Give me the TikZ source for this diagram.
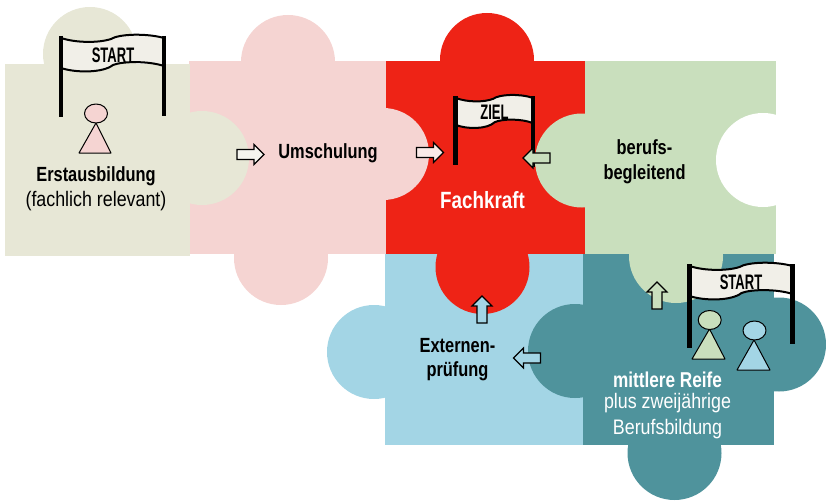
\documentclass[tikz,border=0pt]{standalone}
\usepackage{fontspec}
\setmainfont[FakeStretch=0.8]{Liberation Sans}
\newfontfamily\regfont[FakeStretch=0.85]{Liberation Sans}
\newfontfamily\flagfont[FakeStretch=0.62]{Liberation Sans}
\usetikzlibrary{shapes.arrows}
\definecolor{cbeige}{HTML}{E7E7D6}
\definecolor{cpink}{HTML}{F5D4D2}
\definecolor{cred}{HTML}{EE2316}
\definecolor{cgreen}{HTML}{C9DFBD}
\definecolor{cblue}{HTML}{A3D5E5}
\definecolor{cteal}{HTML}{4F939C}
\definecolor{cflag}{HTML}{F1EFE8}
\tikzset{
 x=1pt,y=-1pt,
 lbl/.style={font=\fontsize{20.5}{22}\selectfont\bfseries,text=#1,inner sep=0pt,align=center},
 lbl/.default=black,
 reglbl/.style={font=\regfont\fontsize{21}{25.5}\selectfont,text=#1,inner sep=0pt,align=center},
 reglbl/.default=black,
 flagtext/.style={font=\flagfont\fontsize{21}{22}\selectfont\bfseries,inner sep=0pt},
 pawnline/.style={draw=black,line width=1pt,line join=round},
 pics/blockarrow/.style={code={
   \draw[fill=#1,draw=black,line width=1.2pt,miter limit=10]
     (-13.5,-5) -- (3.5,-5) -- (3.5,-10) -- (13.5,0) -- (3.5,10) -- (3.5,5) -- (-13.5,5) -- cycle;
 }},
 pics/flag/.style n args={2}{code={
   \path[fill=cflag,draw=black,line width=2pt]
     (0,1) .. controls (15,6) and (38,6) .. (50,2) .. controls (58,-3) and (85,-4) .. (103,1)
     -- (103,29) .. controls (88,24) and (62,24) .. (52,28) .. controls (42,36) and (15,36) .. (0,31) -- cycle;
   \draw[line width=4.5pt,black] (0,-1) -- (0,#1);
   \draw[line width=4.5pt,black] (103,-1) -- (103,#2);
 }}
}
\begin{document}
\begin{tikzpicture}
\useasboundingbox (0,0) rectangle (826,500);
% blue piece
\fill[cblue] (385,254) rectangle (583,445);
\fill[cblue] (374,352) circle (47);
% teal piece
\fill[cteal] (583,254) rectangle (774,445);
\fill[cteal] (575,351) circle (47);
\fill[cteal] (779,344.5) circle (47);
\fill[cteal] (674.5,453) circle (47);
% red piece
\fill[cred] (386,61) rectangle (585,254);
\fill[cred] (487,60) circle (47);
\fill[cred] (482.5,267) circle (47);
% green piece
\fill[cgreen] (585,61) rectangle (776,254);
\fill[cgreen] (582,160.5) circle (47);
\fill[cgreen] (676,256) circle (47);
\fill[white] (763,160) circle (47);
\fill[white] (776,100) rectangle (812,220);
% pink piece
\fill[cpink] (189,61) rectangle (386,254);
\fill[cpink] (288,62) circle (47);
\fill[cpink] (281,258) circle (47);
\fill[cpink] (383,154) circle (46);
% beige piece
\fill[cbeige] (5,64) rectangle (190,256);
\fill[cbeige] (90,54) circle (47);
\fill[cbeige] (202,158) circle (47);

% flags
\pic at (61,37) {flag={80}{79}};
\node[flagtext] (start1) at (113,55) {START};
\pic[xscale=0.75,yscale=0.9] at (455.7,97) {flag={76}{78}};
\node[flagtext] (ziel) at (494.5,112) {ZIEL};
\pic at (689.5,265) {flag={83}{79}};
\node[flagtext] (start2) at (741,282) {START};

% pawns
\draw[pawnline,fill=cpink] (96,123) -- (79,153) -- (111,153) -- cycle;
\draw[pawnline,fill=cpink] (96,113.5) ellipse (11.5 and 9.5);
\draw[pawnline,fill=cgreen] (709.5,329) -- (692,359) -- (725,359) -- cycle;
\draw[pawnline,fill=cgreen] (709.7,320) ellipse (11.5 and 9.5);
\draw[pawnline,fill=cblue] (754,340) -- (737,370) -- (770,370) -- cycle;
\draw[pawnline,fill=cblue] (754.5,330.5) ellipse (11.5 and 9.5);

% arrows
\pic at (250.5,154.5) {blockarrow=cbeige!40!white};
\pic at (430,152.5) {blockarrow=cpink!50!white};
\pic[rotate=180] at (536.5,158) {blockarrow=cgreen};
\pic[rotate=90] at (657,295.5) {blockarrow=cgreen};
\pic[rotate=90] at (482,309.5) {blockarrow=cblue};
\pic[rotate=180] at (527,358) {blockarrow=cblue};

% labels
\node[lbl] (erst) at (96,176) {Erstausbildung};
\node[reglbl] (fach) at (96,201) {(fachlich relevant)};
\node[lbl] (um) at (328,153) {Umschulung};
\node[lbl=white,font=\fontsize{23.5}{26}\selectfont\bfseries] (fk) at (482.5,200) {Fachkraft};
\node[lbl,font=\fontsize{20.5}{25}\selectfont\bfseries] (bb) at (644.5,162) {berufs-\\begleitend};
\node[lbl,font=\fontsize{20.5}{24}\selectfont\bfseries] (ext) at (457.5,360) {Externen-\\prüfung};
\node[lbl=white,font=\fontsize{21.5}{22}\selectfont\bfseries] (mr) at (667.5,380) {mittlere Reife};
\node[reglbl=white] (pz) at (667.5,416) {plus zweijährige\\Berufsbildung};
\end{tikzpicture}
\end{document}
